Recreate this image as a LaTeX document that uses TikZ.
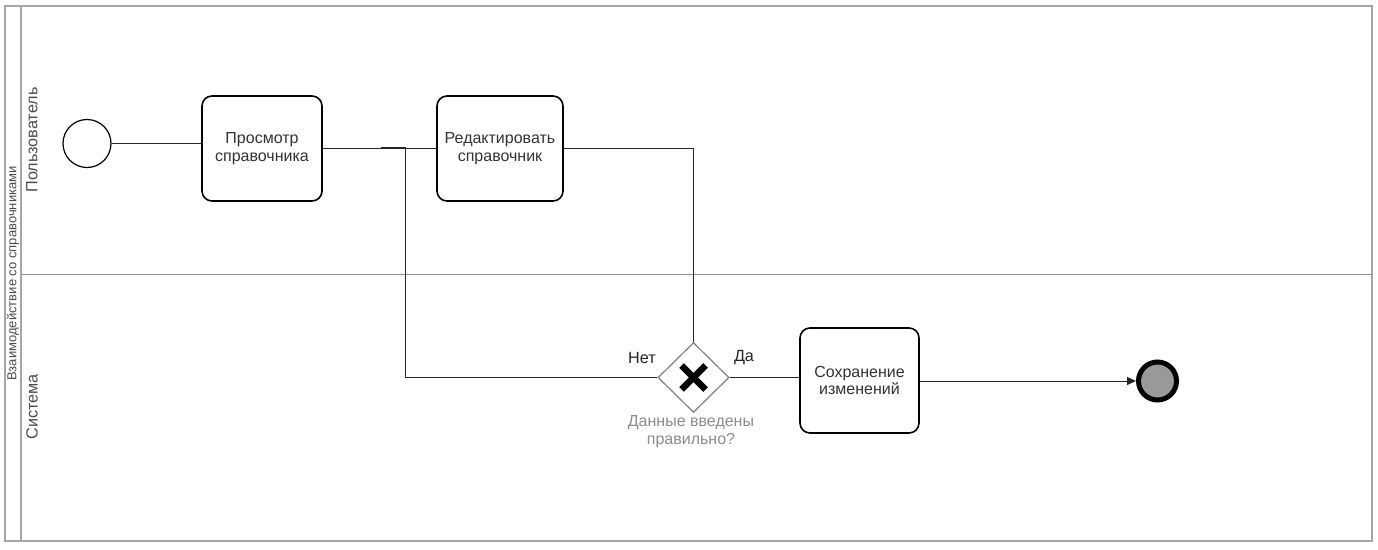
\documentclass[tikz,border=0pt]{standalone}
\usepackage{fontspec}
\setmainfont{Liberation Sans}
\usetikzlibrary{shapes.geometric,arrows.meta}
\begin{document}
\begin{tikzpicture}[x=1pt,y=-1pt,
  pool/.style={draw=black!35,line width=1.4pt},
  lane/.style={draw=black!45,line width=1pt},
  task/.style={draw=black,line width=1.6pt,rounded corners=10pt,fill=white,
    align=center,inner sep=0pt,text=black!80,
    font=\fontsize{16}{17.5}\selectfont},
  flow/.style={draw=black!85,line width=1pt},
  lanelabel/.style={rotate=90,text=black!70,font=\fontsize{16.2}{18}\selectfont},
  poollabel/.style={rotate=90,text=black!70,font=\fontsize{13}{15}\selectfont},
  txt/.style={text=black!85,font=\fontsize{16.2}{17.5}\selectfont,inner sep=0pt},
  gwlabel/.style={text=black!45,align=center,font=\fontsize{16}{17.5}\selectfont,inner sep=0pt}
]
\useasboundingbox (0,0) rectangle (1378,549);
\fill[white] (0,0) rectangle (1378,549);
% pool and lanes
\draw[pool] (5,6) rectangle (1372,541);
\draw[pool] (21,6) -- (21,541);
\draw[lane] (21,274) -- (1372,274);
\node[poollabel] (plabel) at (13,273.5) {Взаимодействие со справочниками};
\node[lanelabel] (l1) at (32,140) {Пользователь};
\node[lanelabel] (l2) at (32,407) {Система};
% nodes
\node[circle,draw=black,line width=1.2pt,minimum size=48pt,inner sep=0pt] (start) at (87,143.5) {};
\node[task,minimum width=120pt,minimum height=105pt] (t1) at (262,148.5) {Просмотр\\справочника};
\node[task,minimum width=126pt,minimum height=105pt] (t2) at (500,148.5) {Редактировать\\справочник};
\node[diamond,draw=black!50,line width=1.2pt,minimum width=71pt,minimum height=70pt,inner sep=0pt,fill=white] (gw) at (693.5,377.5) {};
\draw[black,line width=6.5pt] (681.5,365.5) -- (705.5,389.5);
\draw[black,line width=6.5pt] (705.5,365.5) -- (681.5,389.5);
\node[task,minimum width=119pt,minimum height=105pt] (t3) at (859.5,380.5) {Сохранение\\изменений};
\node[circle,draw=black,line width=5pt,fill=black!40,minimum size=38pt,inner sep=0pt] (end) at (1157.5,381) {};
% labels
\node[txt] (no) at (642,358) {Нет};
\node[txt] (yes) at (744,358) {Да};
\node[gwlabel] (gwl) at (691,431.5) {Данные введены\\правильно?};
% flows
\coordinate (nj) at (381,147.5);
\coordinate (bend) at (405,377.5);
\draw[flow] (start.east) -- (start.east -| t1.west);
\draw[flow] (t1.east) -- (t2.west);
\draw[flow] (gw.west) -- (bend) |- (nj);
\draw[flow] (t2.east) -| (gw.north);
\draw[flow] (gw.east) -- (gw.east -| t3.west);
\draw[flow,-{Triangle[length=9pt,width=8pt]}] (t3.east |- end.west) -- (end.west);
\end{tikzpicture}
\end{document}
